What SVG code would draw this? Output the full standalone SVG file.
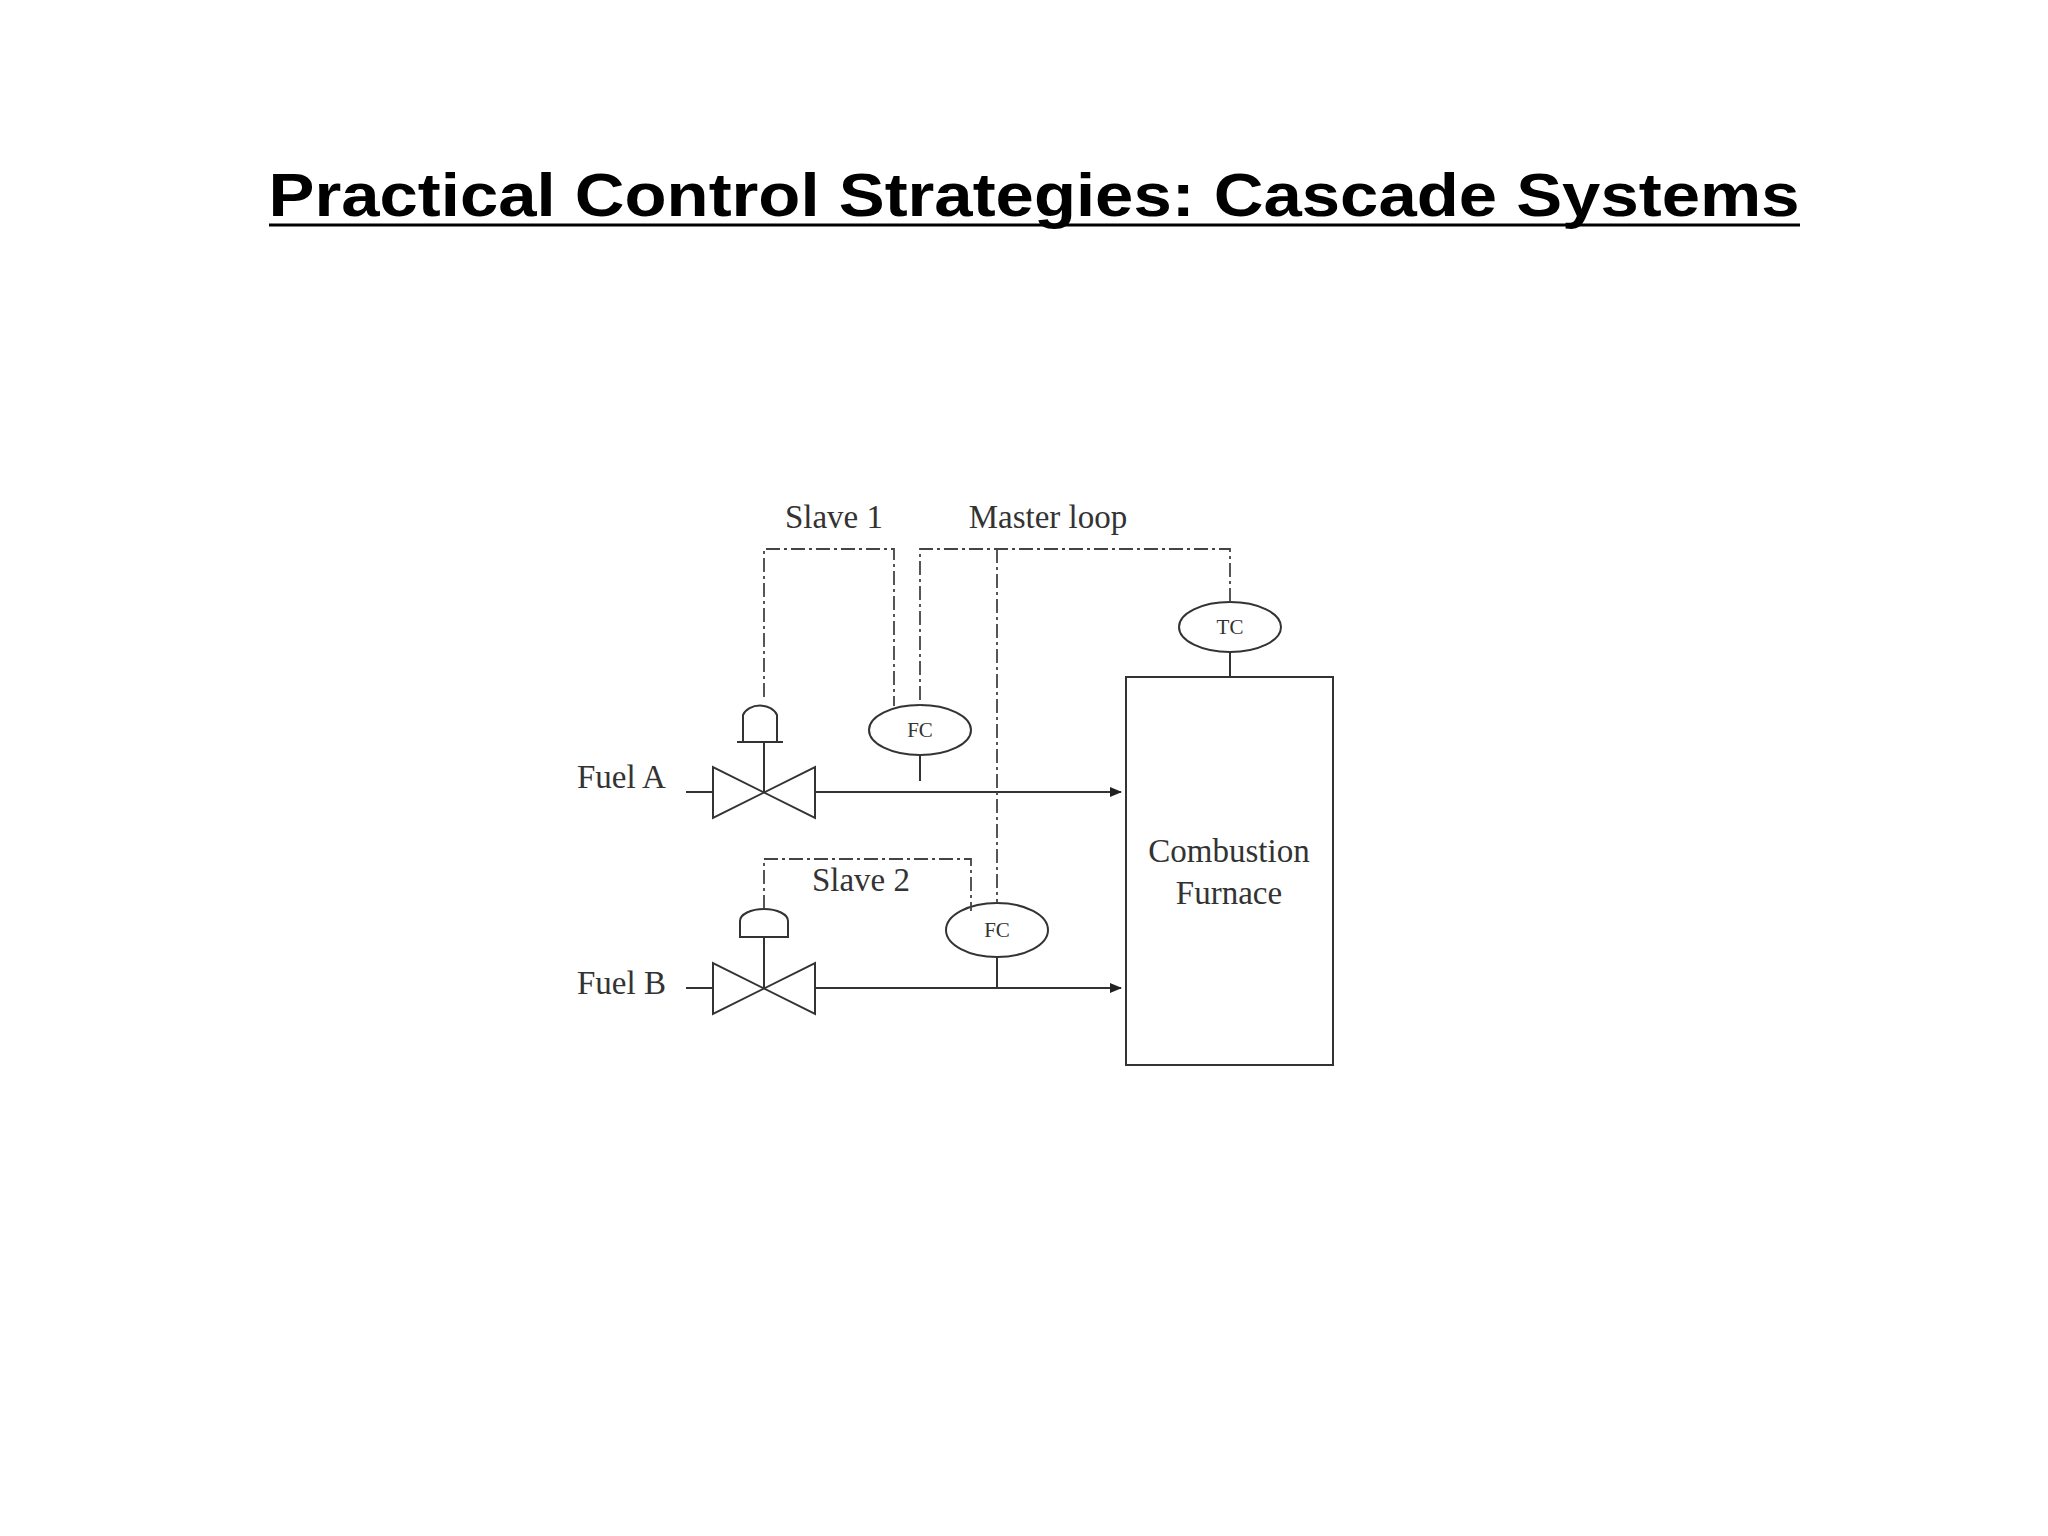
<svg xmlns="http://www.w3.org/2000/svg" width="2048" height="1536" viewBox="0 0 2048 1536">
<style>
.t{font-family:"Liberation Serif",serif;fill:#333;font-size:33px}
.s{font-family:"Liberation Serif",serif;fill:#333;font-size:21px}
.l{stroke:#333;stroke-width:2;fill:none}
.d{stroke:#444;stroke-width:1.8;fill:none;stroke-dasharray:14 4 3 4}
</style>
<defs><marker id="a" markerWidth="12" markerHeight="10" refX="11" refY="5" orient="auto" markerUnits="userSpaceOnUse"><path d="M0,0L12,5L0,10z" fill="#222"/></marker></defs>
<rect width="2048" height="1536" fill="#fff"/>
<g id="title"><text x="1034" y="216" text-anchor="middle" font-family="Liberation Sans,Arial,sans-serif" font-weight="bold" font-size="62" textLength="1531" lengthAdjust="spacingAndGlyphs" fill="#000">Practical Control Strategies: Cascade Systems</text><line x1="269" y1="225" x2="1800" y2="225" stroke="#000" stroke-width="3"/></g>
<g id="furnace"><rect x="1126" y="677" width="207" height="388" class="l" fill="#fff"/><text class="t" x="1229" y="862" text-anchor="middle">Combustion</text><text class="t" x="1229" y="904" text-anchor="middle">Furnace</text></g>
<g id="tc"><ellipse cx="1230" cy="627" rx="51" ry="25" class="l"/><text class="s" x="1230" y="634" text-anchor="middle">TC</text></g>
<g id="fc1"><ellipse cx="920" cy="730" rx="51" ry="25" class="l"/><text class="s" x="920" y="737" text-anchor="middle">FC</text></g>
<g id="fc2"><ellipse cx="997" cy="930" rx="51" ry="27" class="l"/><text class="s" x="997" y="937" text-anchor="middle">FC</text></g>
<g id="valveA"><path class="l" d="M713,767L713,818L815,767L815,818Z"/><path class="l" d="M746,742V715A18,14 0 0 1 780,715V742Z M740,742H786" transform="translate(-3,0)"/><line class="l" x1="764" y1="742" x2="764" y2="792"/></g>
<g id="valveB"><path class="l" d="M713,963L713,1014L815,963L815,1014Z"/><path class="l" d="M740,937V921A24,12 0 0 1 788,921V937Z"/><line class="l" x1="764" y1="937" x2="764" y2="988"/></g>
<g id="labels"><text class="t" x="577" y="788">Fuel A</text><text class="t" x="577" y="994">Fuel B</text><text class="t" x="834" y="528" text-anchor="middle">Slave 1</text><text class="t" x="1048" y="528" text-anchor="middle">Master loop</text><text class="t" x="861" y="891" text-anchor="middle">Slave 2</text></g>
<g id="connectors">
<line class="l" x1="686" y1="792" x2="713" y2="792"/>
<line class="l" x1="815" y1="792" x2="1121" y2="792" marker-end="url(#a)"/>
<line class="l" x1="686" y1="988" x2="713" y2="988"/>
<line class="l" x1="815" y1="988" x2="1121" y2="988" marker-end="url(#a)"/>
<line class="l" x1="1230" y1="652" x2="1230" y2="677"/>
<line class="l" x1="920" y1="755" x2="920" y2="781"/>
<line class="l" x1="997" y1="957" x2="997" y2="988"/>
<path class="d" d="M1230,602V549H920V706"/>
<path class="d" d="M997,549V903"/>
<path class="d" d="M764,697V549H894V706"/>
<path class="d" d="M764,909V859H971V911"/>
</g>
</svg>
